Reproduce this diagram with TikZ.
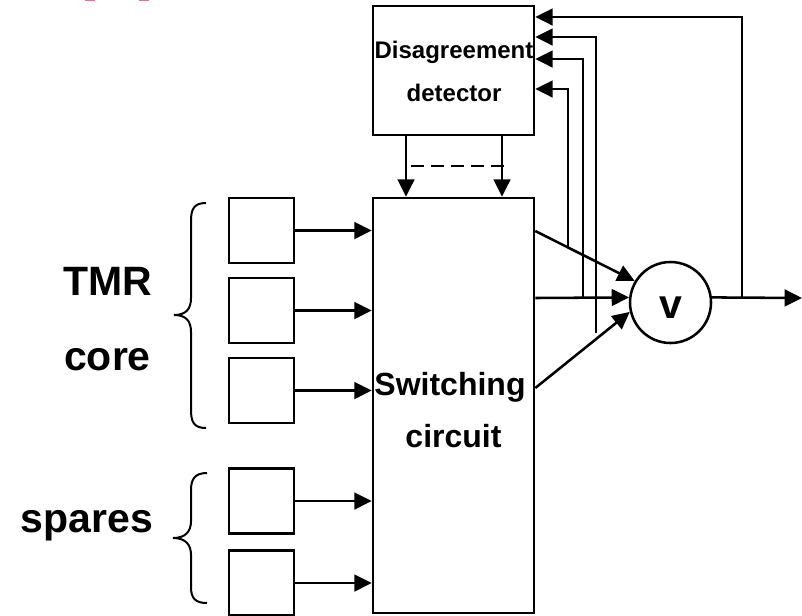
\documentclass[tikz,border=0pt]{standalone}
\usepackage{fontspec}
\setmainfont{Liberation Sans}
\usetikzlibrary{arrows.meta}
\definecolor{pinkc}{RGB}{215,120,150}
\tikzset{
  ln/.style={line width=1.9pt, line join=miter},
  arr/.style={ln, -{Triangle[length=13pt,width=12.5pt]}},
  box/.style={draw, ln, rectangle, inner sep=0pt},
  modbox/.style={box, minimum width=48.75pt, minimum height=48.75pt},
  big/.style={font=\fontsize{30.75}{36}\selectfont\bfseries, inner sep=0pt, anchor=base},
  mid/.style={font=\fontsize{24}{28}\selectfont\bfseries, inner sep=0pt, anchor=base},
  small/.style={font=\fontsize{18}{22}\selectfont\bfseries, inner sep=0pt, anchor=base},
}
\begin{document}
\begin{tikzpicture}[x=0.75pt,y=-0.75pt]
\useasboundingbox (0,0) rectangle (802,615);
% pink fragments at top
\draw[pinkc, line width=0.8pt] (85,0.3) -- (95,0.3);
\draw[pinkc, line width=0.8pt] (139,0.3) -- (149,0.3);

% main boxes
\node[box, minimum width=120.75pt, minimum height=96.75pt] (det) at (453.5,70.5) {};
\node[box, minimum width=120.75pt, minimum height=311.25pt] (sw) at (453.5,405.5) {};
\node[small] (t1) at (454,58) {Disagreement};
\node[small] (t2) at (454,101) {detector};
\node[mid] (t3) at (450,395) {Switching};
\node[mid] (t4) at (453.5,447) {circuit};

% modules
\node[modbox] (m1) at (261.5,230.5) {};
\node[modbox] (m2) at (261.5,310.5) {};
\node[modbox] (m3) at (261.5,390.5) {};
\node[modbox] (s1) at (261.5,501) {};
\node[modbox] (s2) at (261.5,583) {};
\foreach \m in {m1,m2,m3,s1,s2}
  \draw[arr] (\m.east) -- (sw.west |- \m.east);

% voter
\node[draw, ln, circle, minimum size=60.75pt, inner sep=0pt] (v) at (670.5,302.5) {};
\node[big] (vt) at (670.5,318) {v};

% labels
\node[big] (tmr) at (107.5,295) {TMR};
\node[big] (core) at (107.5,370) {core};
\node[big] (spr) at (87,532) {spares};

% braces
\draw[ln, line width=1.5pt] (206,203) .. controls (194,203) and (191,209) .. (191,221) -- (191,298)
  .. controls (191,309) and (186,315) .. (174,315)
  .. controls (186,315) and (191,321) .. (191,332) -- (191,410)
  .. controls (191,422) and (194,428) .. (206,428);
\draw[ln, line width=1.5pt] (207,473) .. controls (195,473) and (191,479) .. (191,490) -- (191,521)
  .. controls (191,532) and (185,538) .. (173,538)
  .. controls (185,538) and (191,544) .. (191,555) -- (191,587)
  .. controls (191,598) and (195,603) .. (207,603);

% detector to switch
\draw[arr] (det.south -| 406,0) -- (sw.north -| 406,0);
\draw[arr] (det.south -| 502,0) -- (sw.north -| 502,0);
\draw[ln, dash pattern=on 10pt off 5pt] (411,166) -- (507,166);

% switch to voter
\coordinate (a1) at (sw.east |- 0,231);
\coordinate (a2) at (sw.east |- 0,298);
\coordinate (a3) at (sw.east |- 0,388);
\draw[arr] (a1) -- (v.149);
\draw[arr] (a2) -- (v.173);
\draw[arr] (a3) -- (v.193);

% output
\coordinate (out) at (802,298);
\draw[arr] (v.7) -- (out);

% feedback lines
\coordinate (f0) at (742,298);
\coordinate (f1) at (568,247.8);
\coordinate (f2) at (583,298);
\coordinate (f3) at (596,333);
\draw[arr] (f0) |- (det.east |- 0,17);
\draw[arr] (f3) |- (det.east |- 0,37);
\draw[arr] (f2) |- (det.east |- 0,59);
\draw[arr] (f1) |- (det.east |- 0,89);
\end{tikzpicture}
\end{document}
